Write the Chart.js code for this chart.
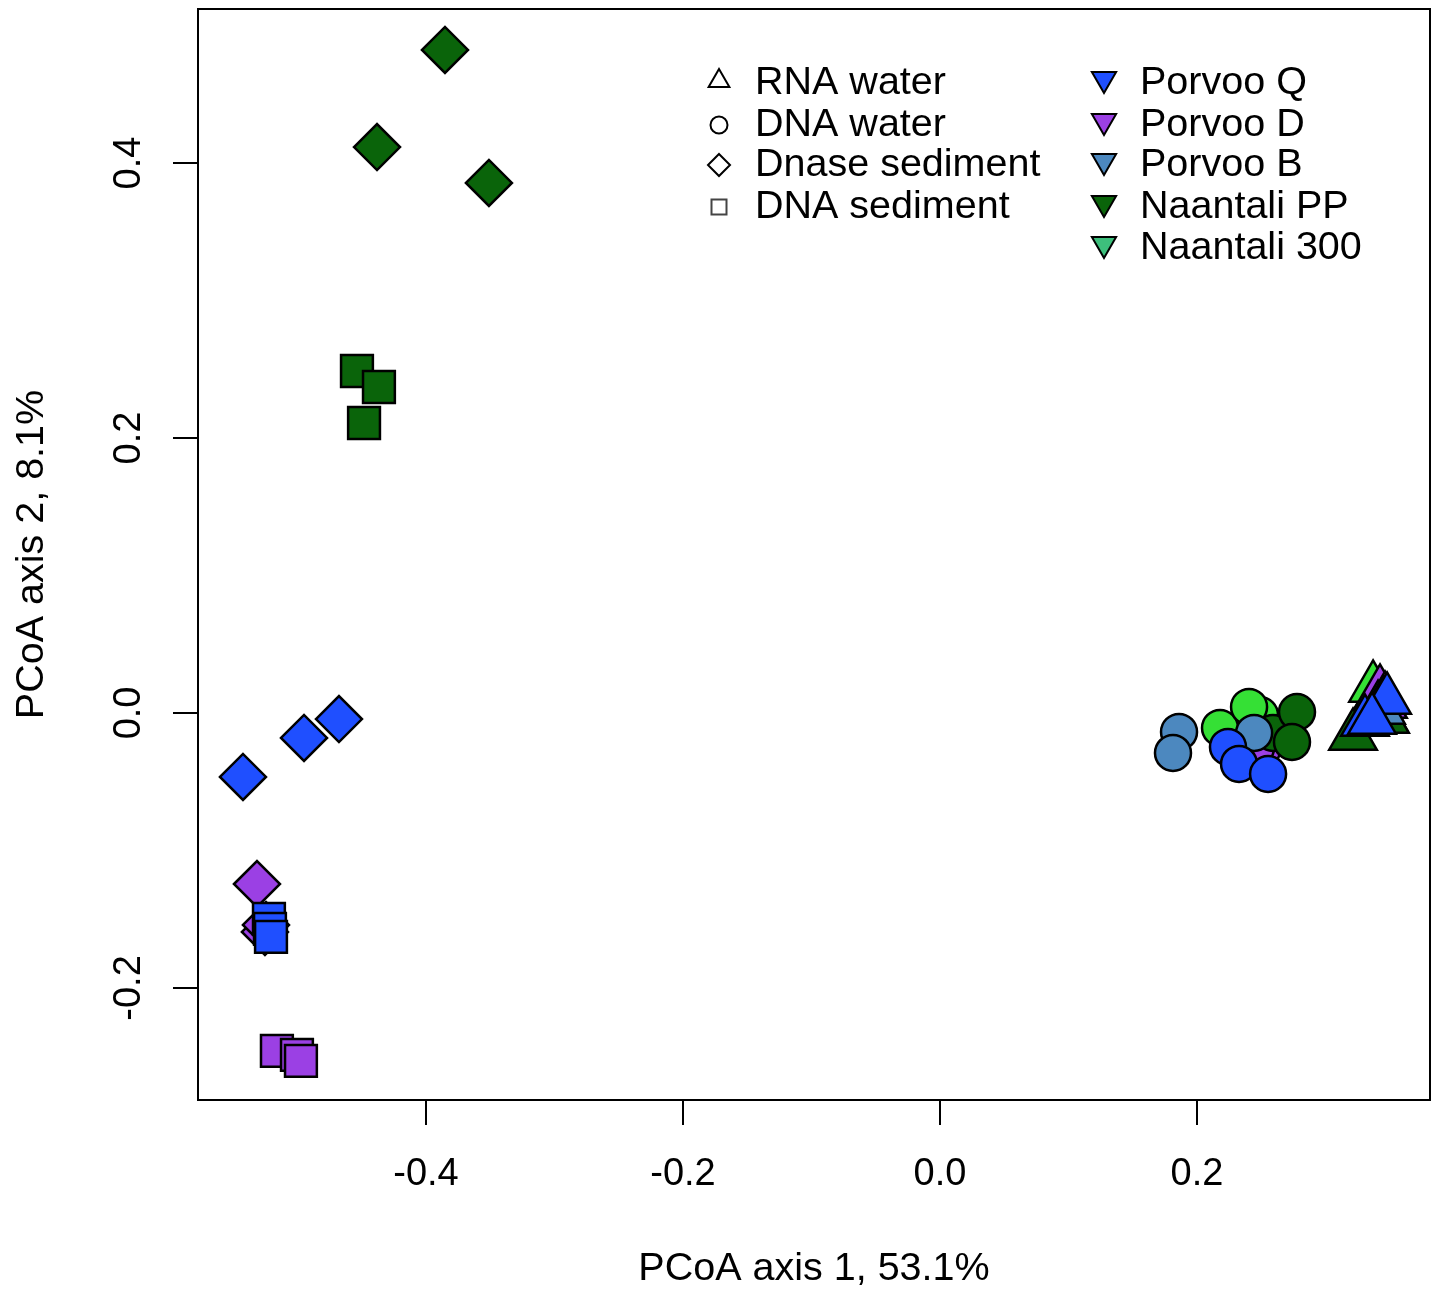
<!DOCTYPE html>
<html>
<head>
<meta charset="utf-8">
<script src="https://cdn.jsdelivr.net/npm/chart.js@4.4.1/dist/chart.umd.min.js"></script>
<style>
  html, body { margin: 0; padding: 0; background: #fff; }
</style>
</head>
<body>
<canvas id="pcoa" width="1437" height="1289"></canvas>
<script>
// sample types (shape) and sites (colour)
const sampleTypes = ['RNA water', 'DNA water', 'Dnase sediment', 'DNA sediment'];
const groups = ['Porvoo Q', 'Porvoo D', 'Porvoo B', 'Naantali PP', 'Naantali 300'];
const legendColors = ['#1f4fff', '#9b40e4', '#4c88bf', '#0a640a', '#3dbf7c'];
const pointColors = ['#1f4fff', '#9b40e4', '#4c88bf', '#0a640a', '#35e035'];

// type index: 0 RNA water, 1 DNA water, 2 Dnase sediment, 3 DNA sediment
const porvooQType = [2, 2, 2, 3, 3, 3, 1, 1, 1, 0, 0, 0];
const porvooQX = [-0.5424, -0.4949, -0.4677, -0.5222, -0.5214, -0.5206, 0.2241, 0.2327, 0.2553, 0.3479, 0.3307, 0.3362];
const porvooQY = [-0.0465, -0.0182, -0.0044, -0.1498, -0.1571, -0.1629, -0.0247, -0.0371, -0.0444, 0.0095, -0.0065, -0.0051];

const porvooDType = [2, 2, 2, 3, 3, 3, 1, 1, 1, 0, 0, 0];
const porvooDX = [-0.5253, -0.5245, -0.5315, -0.5160, -0.5004, -0.4973, 0.2490, 0.2506, 0.2459, 0.3424, 0.3463, 0.3447];
const porvooDY = [-0.1593, -0.1542, -0.1244, -0.2458, -0.2487, -0.2531, -0.0298, -0.0269, -0.0255, 0.0153, 0.0102, 0.0065];

const porvooBType = [1, 1, 1, 0, 0, 0];
const porvooBX = [0.1860, 0.1813, 0.2444, 0.3409, 0.3424, 0.3432];
const porvooBY = [-0.0138, -0.0291, -0.0145, 0.0036, 0.0029, 0.0022];

const naantaliPPType = [2, 2, 2, 3, 3, 3, 1, 1, 1, 0, 0, 0];
const naantaliPPX = [-0.3852, -0.4381, -0.3510, -0.4537, -0.4366, -0.4482, 0.2591, 0.2778, 0.2739, 0.3447, 0.3463, 0.3214];
const naantaliPPY = [0.4822, 0.4116, 0.3855, 0.2487, 0.2371, 0.2109, -0.0145, 0.0007, -0.0211, -0.0022, -0.0044, -0.0167];

const naantali300Type = [1, 1, 1, 0, 0, 0];
const naantali300X = [0.2490, 0.2179, 0.2405, 0.3447, 0.3409, 0.3370];
const naantali300Y = [-0.0015, -0.0109, 0.0044, 0.0095, 0.0131, 0.0182];

const xTicks = [-0.4, -0.2, 0.0, 0.2];
const yTicks = [-0.2, 0.0, 0.2, 0.4];
const xTitle = 'PCoA axis 1, 53.1%';
const yTitle = 'PCoA axis 2, 8.1%';

const FONT_FAMILY = '"Liberation Sans", Arial, Helvetica, sans-serif';
const FONT = '38px ' + FONT_FAMILY;
const LEGEND_FONT = '39.5px ' + FONT_FAMILY;
Chart.defaults.font.family = FONT_FAMILY;
Chart.defaults.color = '#000';

const typeStyle = ['triangle', 'circle', 'rectRot', 'rect'];
const typeRadius = [27.5, 18, 23, 22.5];

function makeDataset(gi, xs, ys, types) {
    return {
        label: groups[gi],
        data: xs.map((x, i) => ({ x: x, y: ys[i] })),
        pointStyle: types.map(t => typeStyle[t]),
        pointRadius: types.map(t => typeRadius[t]),
        pointHoverRadius: types.map(t => typeRadius[t]),
        pointBackgroundColor: pointColors[gi],
        pointBorderColor: '#000',
        pointBorderWidth: 2.5,
        showLine: false
    };
}

// index 0 is drawn last (on top)
const datasets = [
    makeDataset(0, porvooQX, porvooQY, porvooQType),
    makeDataset(2, porvooBX, porvooBY, porvooBType),
    makeDataset(3, naantaliPPX, naantaliPPY, naantaliPPType),
    makeDataset(1, porvooDX, porvooDY, porvooDType),
    makeDataset(4, naantali300X, naantali300Y, naantali300Type)
];

function fmt(v) {
    return (Math.round(v * 10) / 10).toFixed(1);
}

// simple marker drawing for the legend
function marker(ctx, kind, x, y, r) {
    ctx.beginPath();
    if (kind === 'up') {
        ctx.moveTo(x, y - r);
        ctx.lineTo(x + r * 0.866, y + r / 2);
        ctx.lineTo(x - r * 0.866, y + r / 2);
        ctx.closePath();
    } else if (kind === 'down') {
        ctx.moveTo(x, y + r);
        ctx.lineTo(x + r * 0.866, y - r / 2);
        ctx.lineTo(x - r * 0.866, y - r / 2);
        ctx.closePath();
    } else if (kind === 'circle') {
        ctx.arc(x, y, r, 0, Math.PI * 2);
    } else if (kind === 'diamond') {
        ctx.moveTo(x, y - r);
        ctx.lineTo(x + r, y);
        ctx.lineTo(x, y + r);
        ctx.lineTo(x - r, y);
        ctx.closePath();
    } else {
        ctx.rect(x - r, y - r, 2 * r, 2 * r);
    }
}

const boxAndLabels = {
    id: 'boxAndLabels',
    afterDraw(chart) {
        const ctx = chart.ctx;
        const a = chart.chartArea;
        const ys = chart.scales.y;
        ctx.save();

        // plot frame
        ctx.strokeStyle = '#000';
        ctx.lineWidth = 2;
        ctx.strokeRect(a.left, a.top, a.right - a.left, a.bottom - a.top);

        // rotated y tick labels (R style)
        ctx.font = FONT;
        ctx.fillStyle = '#000';
        ctx.textAlign = 'center';
        ctx.textBaseline = 'middle';
        ys.ticks.forEach(t => {
            ctx.save();
            ctx.translate(ys.right - 68, ys.getPixelForValue(t.value));
            ctx.rotate(-Math.PI / 2);
            ctx.fillText(fmt(t.value), 0, 0);
            ctx.restore();
        });

        // legend: shapes
        const rows = [83, 125, 165, 207, 248];
        const shapeKinds = ['up', 'circle', 'diamond', 'square'];
        const shapeSizes = [12, 8.5, 11, 7.5];
        ctx.font = LEGEND_FONT;
        ctx.textAlign = 'left';
        sampleTypes.forEach((name, i) => {
            marker(ctx, shapeKinds[i], 719, rows[i] - (i === 0 ? 2 : 0), shapeSizes[i]);
            ctx.lineWidth = 2;
            ctx.strokeStyle = i === 3 ? '#444' : '#000';
            ctx.stroke();
            ctx.fillText(name, 755, rows[i]);
        });
        // legend: sites
        groups.forEach((name, i) => {
            marker(ctx, 'down', 1104, rows[i] - 4, 14);
            ctx.fillStyle = legendColors[i];
            ctx.fill();
            ctx.strokeStyle = '#000';
            ctx.lineWidth = 2;
            ctx.stroke();
            ctx.fillStyle = '#000';
            ctx.fillText(name, 1140, rows[i]);
        });
        ctx.restore();
    }
};

new Chart(document.getElementById('pcoa'), {
    type: 'scatter',
    data: { datasets: datasets },
    options: {
        responsive: false,
        animation: false,
        events: [],
        layout: { autoPadding: false, padding: { top: 9, right: 7, left: 0, bottom: 0 } },
        plugins: {
            legend: { display: false },
            tooltip: { enabled: false }
        },
        scales: {
            x: {
                type: 'linear',
                min: -0.5774,
                max: 0.3813,
                afterFit: s => { s.height = 189; },
                afterBuildTicks: s => { s.ticks = xTicks.map(v => ({ value: v })); },
                ticks: {
                    font: { size: 38, lineHeight: 1.2 },
                    color: '#000',
                    padding: 27,
                    maxRotation: 0,
                    autoSkip: false,
                    callback: v => fmt(v)
                },
                grid: { drawOnChartArea: false, drawTicks: true, tickLength: 25, color: '#000', lineWidth: 2 },
                border: { display: false },
                title: {
                    display: true,
                    text: xTitle,
                    font: { size: 39.5, lineHeight: 1 },
                    color: '#000',
                    padding: { top: 0, bottom: 0 }
                }
            },
            y: {
                type: 'linear',
                min: -0.2815,
                max: 0.512,
                afterFit: s => { s.width = 198; },
                afterBuildTicks: s => { s.ticks = yTicks.map(v => ({ value: v })); },
                ticks: { display: false },
                grid: { drawOnChartArea: false, drawTicks: true, tickLength: 25, color: '#000', lineWidth: 2 },
                border: { display: false },
                title: {
                    display: true,
                    text: yTitle,
                    font: { size: 39.5, lineHeight: 1 },
                    color: '#000',
                    padding: { top: 12, bottom: 0 }
                }
            }
        }
    },
    plugins: [boxAndLabels]
});
</script>
</body>
</html>
